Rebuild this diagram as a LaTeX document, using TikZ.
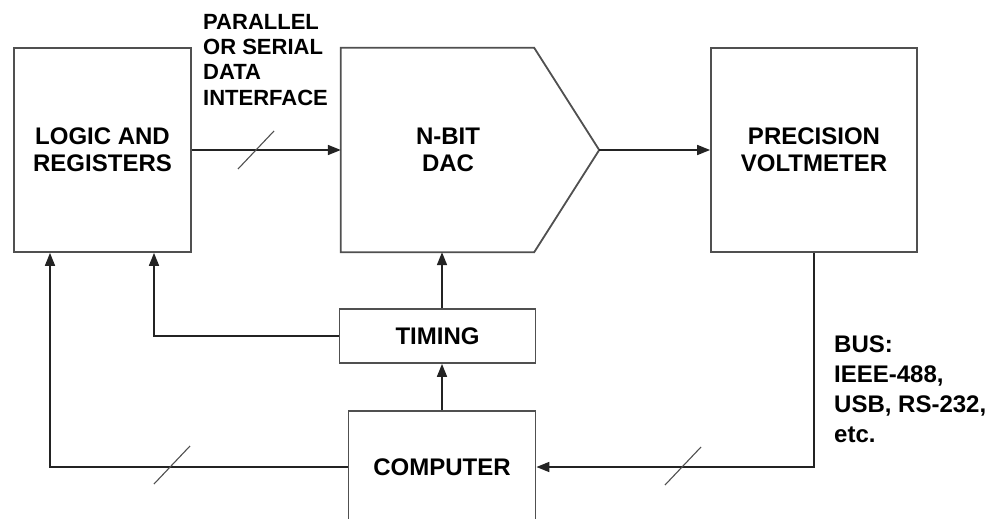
\documentclass[tikz,border=0pt]{standalone}
\usepackage{fontspec}
\setmainfont{Liberation Sans}
\usetikzlibrary{arrows.meta, positioning, calc}
\definecolor{boxgray}{RGB}{80,80,80}
\definecolor{wiregray}{RGB}{35,35,35}
\begin{document}
\begin{tikzpicture}[
    x=1pt, y=-1pt,
    >={Triangle[length=13pt,width=10pt]},
    box/.style={rectangle, draw=boxgray, line width=1.8pt, align=center,
                font=\fontsize{24}{27}\selectfont\bfseries, inner sep=0pt},
    lbl/.style={anchor=north west, align=left, inner sep=0pt},
    arr/.style={->, line width=1.7pt, draw=wiregray},
    wire/.style={line width=1.7pt, draw=wiregray},
    tickmark/.style={line width=1.1pt, draw=boxgray},
]
\clip (0,0) rectangle (994,519);
\fill[white] (0,0) rectangle (994,519);

% blocks
\node[box, minimum width=177pt, minimum height=204pt] (logic) at (102.5,150) {LOGIC AND\\REGISTERS};
\node[minimum width=193pt, minimum height=204pt, inner sep=0pt] (dac) at (437.5,150) {};
\node[box, draw=none] (daclabel) at (448,150) {N-BIT\\DAC};
\node[box, minimum width=206pt, minimum height=204pt] (volt) at (814,150) {PRECISION\\VOLTMETER};
\node[box, minimum width=196pt, minimum height=54pt] (timing) at (437.5,336) {TIMING};
\node[box, minimum width=187pt, minimum height=112pt] (computer) at (442,467) {COMPUTER};

% DAC outline
\draw[boxgray, line width=1.8pt, line join=miter]
    (dac.north west) -- (dac.north east) -- ($(dac.east)+(65,0)$) coordinate (dacout)
    -- (dac.south east) -- (dac.south west) -- cycle;

% labels
\node[lbl, font=\fontsize{22}{25.3}\selectfont\bfseries] (iflabel) at (203,14)
    {PARALLEL\\OR SERIAL\\DATA\\INTERFACE};
\node[lbl, font=\fontsize{24}{30}\selectfont\bfseries] (buslabel) at (834,336)
    {BUS:\\IEEE-488,\\USB, RS-232,\\etc.};

% connectors
\draw[arr] (logic.east) -- (dac.west);
\draw[arr] (dacout) -- (volt.west);
\draw[arr] (computer.north) -- (computer.north |- timing.south);
\draw[arr] (timing.north -| computer.north) -- (computer.north |- dac.south);
\draw[arr] (timing.west) -| ([xshift=51.5pt]logic.south);
\draw[arr] (computer.west) -| ([xshift=-52.5pt]logic.south);
\draw[arr] (volt.south) |- (computer.east);

% bus slashes
\coordinate (s1) at (256,150);
\coordinate (s2) at (172,465);
\coordinate (s3) at (683,466);
\foreach \s in {s1,s2,s3}
  \draw[tickmark] ($(\s)+(-18,19)$) -- ($(\s)+(18,-19)$);
\end{tikzpicture}
\end{document}
